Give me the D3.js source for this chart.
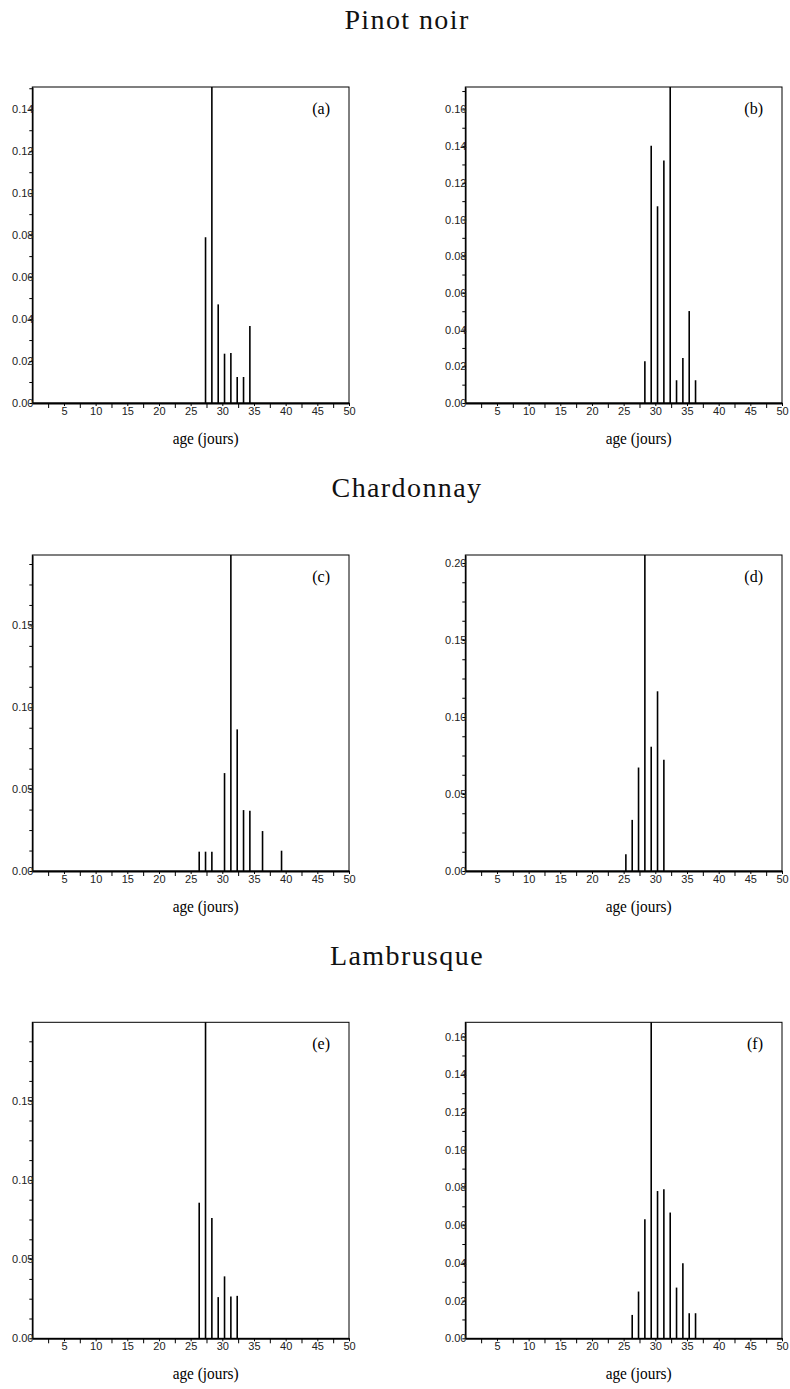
<!DOCTYPE html>
<html>
<head>
<meta charset="utf-8">
<script src="https://cdn.jsdelivr.net/npm/d3@7"></script>
<style>
  body { margin: 0; background: #fff; }
</style>
</head>
<body>
<div id="figure"></div>
<script>

// ages (jours) and frequencies
// the tallest spike goes past the top of each frame, its value is a guess
var ages_a = [27, 28, 29, 30, 31, 32, 33, 34];
var freq_a = [0.079, 0.76, 0.047, 0.0235, 0.0238, 0.0124, 0.0124, 0.0367];

var ages_b = [28, 29, 30, 31, 32, 33, 34, 35, 36];
var freq_b = [0.0227, 0.1402, 0.1072, 0.1322, 0.50, 0.0124, 0.0245, 0.0501, 0.0124];

var ages_c = [26, 27, 28, 30, 31, 32, 33, 34, 36, 39];
var freq_c = [0.0118, 0.0118, 0.0118, 0.0598, 0.70, 0.0865, 0.0372, 0.0368, 0.0244, 0.0124];

var ages_d = [25, 26, 27, 28, 29, 30, 31];
var freq_d = [0.0108, 0.0332, 0.0672, 0.62, 0.0807, 0.1167, 0.0722];

var ages_e = [26, 27, 28, 29, 30, 31, 32];
var freq_e = [0.0856, 0.72, 0.0760, 0.0260, 0.0391, 0.0264, 0.0268];

var ages_f = [26, 27, 28, 29, 30, 31, 32, 33, 34, 35, 36];
var freq_f = [0.0124, 0.0248, 0.0631, 0.64, 0.0781, 0.0790, 0.0667, 0.0269, 0.0398, 0.0133, 0.0133];

// titles, panel letters, axis settings
var varieties = ["Pinot noir", "Chardonnay", "Lambrusque"];
var panelLetters = ["(a)", "(b)", "(c)", "(d)", "(e)", "(f)"];
var xTicks = [5, 10, 15, 20, 25, 30, 35, 40, 45, 50];
var xMinorTicks = [2.5, 7.5, 12.5, 17.5, 22.5, 27.5, 32.5, 37.5, 42.5, 47.5];
var yMax = [0.1506, 0.1722, 0.193, 0.2052, 0.1995, 0.1676];
var yLabelStep = [0.02, 0.02, 0.05, 0.05, 0.05, 0.02];
var yMinorStep = [0.01, 0.01, 0.0125, 0.0125, 0.0125, 0.01];
var xLabel = "age (jours)";

var panels = [
  {ages: ages_a, freq: freq_a},
  {ages: ages_b, freq: freq_b},
  {ages: ages_c, freq: freq_c},
  {ages: ages_d, freq: freq_d},
  {ages: ages_e, freq: freq_e},
  {ages: ages_f, freq: freq_f}
];

// layout
var W = 790, H = 1389;
var colX = [32.3, 465.3],
    rowY = [87, 555, 1022.3],
    pw = 316.7,
    ph = 316;
var spikeShift = 0.35;   // spikes sit a little right of the integer tick

var svg = d3.select("#figure")
  .append("svg")
    .attr("width", W)
    .attr("height", H);

svg.append("rect")
  .attr("width", W)
  .attr("height", H)
  .attr("fill", "#fff");

// row titles
svg.selectAll("text.title")
  .data(varieties)
  .enter()
  .append("text")
    .attr("class", "title")
    .attr("x", 407)
    .attr("y", function(d, i) { return rowY[i] - 57.7; })
    .attr("text-anchor", "middle")
    .style("font-family", "'Liberation Serif', 'DejaVu Serif', serif")
    .style("font-size", "28px")
    .style("letter-spacing", "1.4px")
    .style("fill", "#111")
    .text(function(d) { return d; });

panels.forEach(function(p, i) {
  var col = i % 2, row = Math.floor(i / 2);

  var g = svg.append("g")
    .attr("transform", "translate(" + colX[col] + "," + rowY[row] + ")");

  var x = d3.scaleLinear()
    .domain([0, 50])
    .range([0, pw]);

  var y = d3.scaleLinear()
    .domain([0, yMax[i]])
    .range([ph, 0])
    .clamp(true);

  // frame
  g.append("rect")
    .attr("width", pw)
    .attr("height", ph)
    .attr("fill", "none")
    .attr("stroke", "#000")
    .attr("stroke-width", 1);

  // spikes
  var pts = p.ages.map(function(a, k) { return {age: a, f: p.freq[k]}; });
  g.selectAll("line.spike")
    .data(pts)
    .enter()
    .append("line")
      .attr("class", "spike")
      .attr("x1", function(d) { return x(d.age + spikeShift); })
      .attr("x2", function(d) { return x(d.age + spikeShift); })
      .attr("y1", y(0))
      .attr("y2", function(d) { return y(d.f); })
      .attr("stroke", "#000")
      .attr("stroke-width", 1.6);

  // x axis: minor ticks then labelled ticks
  var xMinor = g.append("g")
    .attr("transform", "translate(0," + ph + ")")
    .call(d3.axisBottom(x).tickValues(xMinorTicks).tickSize(5).tickSizeOuter(0).tickFormat(""));
  xMinor.select(".domain").remove();

  var xAxis = g.append("g")
    .attr("transform", "translate(0," + ph + ")")
    .call(d3.axisBottom(x).tickValues(xTicks).tickSize(3).tickSizeOuter(0).tickPadding(1));
  xAxis.select(".domain").attr("stroke-width", 1.8);
  xAxis.selectAll("text")
    .style("font-family", "'Liberation Sans', Arial, sans-serif")
    .style("font-size", "11px")
    .style("fill", "#222");

  // y axis
  var yTicks = d3.range(0, yMax[i] + 1e-9, yMinorStep[i]);
  var isLabel = function(d) {
    var r = d / yLabelStep[i];
    return Math.abs(r - Math.round(r)) < 1e-6;
  };
  var yAxis = g.append("g")
    .call(d3.axisLeft(y)
      .tickValues(yTicks)
      .tickSize(3)
      .tickSizeOuter(0)
      .tickPadding(-4.2)
      .tickFormat(function(d) { return isLabel(d) ? d.toFixed(2) : ""; }));
  yAxis.select(".domain").attr("stroke-width", 1.5);
  yAxis.selectAll("text")
    .style("font-family", "'Liberation Sans', Arial, sans-serif")
    .style("font-size", "11px")
    .style("fill", "#222");

  // panel letter
  g.append("text")
    .attr("x", pw - 19)
    .attr("y", 27)
    .attr("text-anchor", "end")
    .style("font-family", "'Liberation Serif', 'Times New Roman', serif")
    .style("font-size", "16px")
    .text(panelLetters[i]);

  // x label
  g.append("text")
    .attr("x", pw / 2 + 15)
    .attr("y", ph + 41)
    .attr("text-anchor", "middle")
    .attr("textLength", 66)
    .attr("lengthAdjust", "spacingAndGlyphs")
    .style("font-family", "'Liberation Serif', 'Times New Roman', serif")
    .style("font-size", "17px")
    .text(xLabel);
});

</script>
</body>
</html>
